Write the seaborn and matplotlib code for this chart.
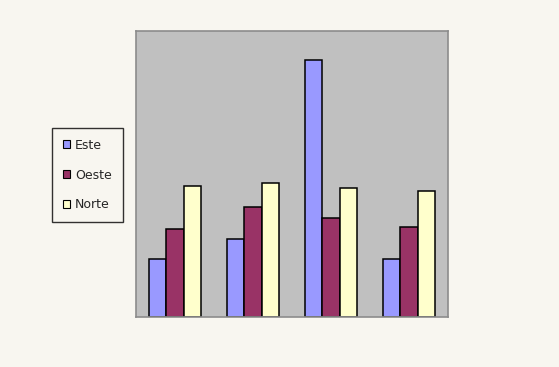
import pandas as pd
import seaborn as sns
import matplotlib.pyplot as plt
from matplotlib.patches import Patch

# Data
quarters = ['1er trim.', '2do trim.', '3er trim.', '4to trim.']
series = ['Este', 'Oeste', 'Norte']
este = [20.4, 27.4, 90.0, 20.4]
oeste = [30.6, 38.6, 34.6, 31.6]
norte = [45.9, 46.9, 45.0, 43.9]
colors = ['#9999FF', '#993366', '#FFFFCC']

data = pd.DataFrame({
    'trim': quarters * 3,
    'serie': ['Este'] * 4 + ['Oeste'] * 4 + ['Norte'] * 4,
    'valor': este + oeste + norte,
})

sns.set_style('white')
plt.rcParams['font.family'] = ['DejaVu Sans']

fig = plt.figure(figsize=(5.59, 3.67), dpi=100)
fig.patch.set_facecolor('#F8F6F0')
ax = fig.add_axes([136 / 559, 50 / 367, 312 / 559, 286 / 367])
ax.set_facecolor('#C0C0C0')

sns.barplot(data=data, x='trim', y='valor', hue='serie', hue_order=series,
            palette=colors, width=0.67, edgecolor='black', linewidth=1.1,
            saturation=1, legend=False, ax=ax)

ax.set_ylim(0, 100)
ax.set_xlim(-0.5, 3.5)
ax.set_xticks([])
ax.set_yticks([])
ax.set_xlabel('')
ax.set_ylabel('')
for side, sp in ax.spines.items():
    sp.set_visible(True)
    sp.set_color('#8C8C8C')
    sp.set_linewidth(1.2)

# Legend on the left
handles = [Patch(facecolor=c, edgecolor='black', linewidth=0.8, label=s)
           for c, s in zip(colors, series)]
leg = fig.legend(handles=handles, loc='upper left',
                 bbox_to_anchor=(52 / 559, (367 - 128) / 367),
                 frameon=True, fontsize=9, handlelength=0.6, handleheight=0.6,
                 handletextpad=0.4, labelspacing=1.35, borderpad=0.85,
                 borderaxespad=0, fancybox=False)
leg.get_frame().set_edgecolor('black')
leg.get_frame().set_linewidth(1.0)
leg.get_frame().set_facecolor('none')

fig.savefig('out.png', dpi=100, facecolor=fig.get_facecolor())
